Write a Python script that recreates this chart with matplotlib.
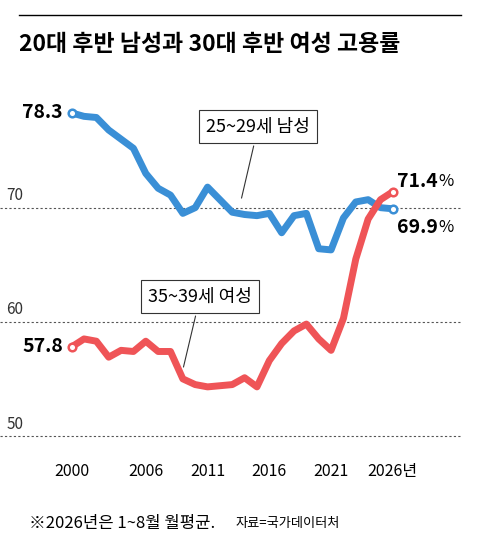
import matplotlib
matplotlib.use("Agg")
import matplotlib.pyplot as plt

plt.rcParams['font.family'] = ['Noto Sans CJK KR', 'DejaVu Sans']

years = list(range(2000, 2027))
men = [78.3, 78.0, 77.9, 76.8, 76.0, 75.2, 73.0, 71.7, 71.1, 69.5, 70.0, 71.8, 70.7,
       69.6, 69.4, 69.3, 69.5, 67.8, 69.3, 69.5, 66.4, 66.3, 69.1, 70.5, 70.7, 70.0, 69.9]
women = [57.8, 58.5, 58.3, 56.9, 57.5, 57.4, 58.3, 57.4, 57.4, 55.0, 54.5, 54.3, 54.4,
         54.5, 55.1, 54.3, 56.6, 58.1, 59.2, 59.8, 58.5, 57.5, 60.3, 65.5, 69.0, 70.7, 71.4]
xticks = [2000, 2006, 2011, 2016, 2021, 2026]
xlabels = ['2000', '2006', '2011', '2016', '2021', '2026년']
blue = '#3a8fd6'
red = '#ef5457'

fig = plt.figure(figsize=(4.8, 5.43), dpi=100)
ax = fig.add_axes([0.0, 0.153, 0.96, 0.70])
fig.add_artist(plt.Line2D([0.04, 0.96], [0.972, 0.972], color='black', lw=1))
fig.text(0.04, 0.918, '20대 후반 남성과 30대 후반 여성 고용률', fontsize=16.5, fontweight='bold', va='center')

ax.plot(years, men, color=blue, lw=5, solid_capstyle='butt', zorder=3)
ax.plot(years, women, color=red, lw=5, solid_capstyle='butt', zorder=3)
for s, c in ((men, blue), (women, red)):
    ax.scatter([years[0], years[-1]], [s[0], s[-1]], s=30, facecolor='white', edgecolor=c, lw=1.8, zorder=4)

for v in (50, 60, 70):
    ax.axhline(v, color='#555555', lw=0.8, ls=(0, (2, 2)), zorder=1)
ax.set_xlim(1994.2, 2031.5)
ax.set_ylim(47.9, 81.2)
ax.set_xticks(xticks)
ax.set_xticklabels(xlabels, fontsize=11.5)
ax.tick_params(axis='x', length=0, pad=2)
ax.set_yticks([])
for sp in ax.spines.values():
    sp.set_visible(False)
for v in (50, 60, 70):
    ax.text(1994.7, v + 0.3, str(v), fontsize=11, color='#333333', va='bottom')

ax.text(1999.3, men[0], '78.3', fontsize=14, fontweight='bold', ha='right', va='center')
ax.text(1999.3, women[0], '57.8', fontsize=14, fontweight='bold', ha='right', va='center')
for val, yv in (('71.4', 72.3), ('69.9', 68.3)):
    t = ax.text(2026.3, yv, val, fontsize=14, fontweight='bold', ha='left', va='center')
    ax.annotate('%', xy=(1, 0.5), xycoords=t, xytext=(1, 0), textcoords='offset points',
                fontsize=12, ha='left', va='center')

ax.annotate('25~29세 남성', xy=(2013.7, 70.6), xytext=(2015.1, 77.1), fontsize=13, ha='center', va='center',
            bbox=dict(boxstyle='square,pad=0.4', fc='white', ec='#333333', lw=0.8),
            arrowprops=dict(arrowstyle='-', color='#333333', lw=0.8))
ax.annotate('35~39세 여성', xy=(2009.0, 55.8), xytext=(2010.4, 62.2), fontsize=13, ha='center', va='center',
            bbox=dict(boxstyle='square,pad=0.4', fc='white', ec='#333333', lw=0.8),
            arrowprops=dict(arrowstyle='-', color='#333333', lw=0.8))

fig.text(0.06, 0.035, '※2026년은 1~8월 월평균.', fontsize=12, va='center')
fig.text(0.49, 0.035, '자료=국가데이터처', fontsize=9.5, va='center')

fig.savefig('out.png', dpi=100)
